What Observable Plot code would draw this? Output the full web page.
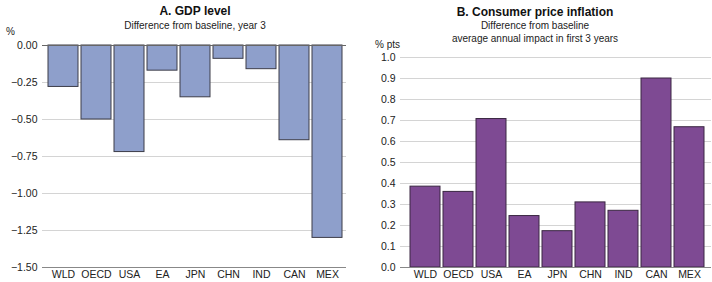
<!DOCTYPE html>
<html>
<head>
<meta charset="utf-8">
<script src="https://cdn.jsdelivr.net/npm/d3@7"></script>
<script src="https://cdn.jsdelivr.net/npm/@observablehq/plot@0.6"></script>
<style>
  html, body { margin: 0; padding: 0; background: #fff; }
  body { width: 712px; height: 282px; position: relative; overflow: hidden; font-family: "Liberation Sans", Arial, sans-serif; }
  .t { position: absolute; text-align: center; color: #111; white-space: nowrap; }
  .title { font-weight: bold; font-size: 12px; }
  .sub { font-size: 10px; color: #222; }
  .unit { position: absolute; font-size: 10px; color: #222; }
  .chart { position: absolute; top: 0; }
</style>
</head>
<body>
<div class="t title" style="left:95px;width:200px;top:4px;">A. GDP level</div>
<div class="t sub" style="left:95px;width:200px;top:20px;">Difference from baseline, year 3</div>
<div class="unit" style="left:6px;top:26px;">%</div>

<div class="t title" style="left:405px;width:260px;top:5px;">B. Consumer price inflation</div>
<div class="t sub" style="left:405px;width:260px;top:20px;">Difference from baseline</div>
<div class="t sub" style="left:405px;width:260px;top:33px;">average annual impact in first 3 years</div>
<div class="unit" style="left:375px;top:39px;">% pts</div>

<div id="left" class="chart" style="left:0px;"></div>
<div id="right" class="chart" style="left:356px;"></div>
<script>
const categories = ["WLD", "OECD", "USA", "EA", "JPN", "CHN", "IND", "CAN", "MEX"];
const gdpValues = [-0.28, -0.50, -0.72, -0.17, -0.35, -0.09, -0.16, -0.64, -1.30];
const cpiValues = [0.385, 0.36, 0.707, 0.245, 0.173, 0.31, 0.27, 0.90, 0.668];
const gdpTicks = [0, -0.25, -0.5, -0.75, -1, -1.25, -1.5];
const cpiTicks = [0, 0.1, 0.2, 0.3, 0.4, 0.5, 0.6, 0.7, 0.8, 0.9, 1.0];

const gdpData = categories.map((c, i) => ({cat: c, v: gdpValues[i]}));
const cpiData = categories.map((c, i) => ({cat: c, v: cpiValues[i]}));

const common = {
  style: {fontFamily: "Liberation Sans, Arial, sans-serif", fontSize: "10.5px", color: "#222", background: "transparent"},
};

const gdpGrid = gdpTicks.slice(1, 6).map(t => ({y: t}));
const cpiGrid = cpiTicks.slice(1).map(t => ({y: t}));

const left = Plot.plot({
  ...common,
  width: 356, height: 282,
  marginLeft: 45, marginRight: 10, marginTop: 45, marginBottom: 15,
  x: {domain: categories, padding: 0.08, label: null, tickSize: 0, tickPadding: 3},
  y: {domain: [-1.5, 0], ticks: gdpTicks, tickFormat: d3.format(".2f"), label: null, tickSize: 0, tickPadding: 8},
  marks: [
    Plot.ruleY(gdpGrid, {y: "y", stroke: "#d4d4d4", strokeWidth: 1, insetLeft: -3}),
    Plot.ruleY([-1.5], {stroke: "#888", strokeWidth: 1, insetLeft: -3}),
    Plot.barY(gdpData, {x: "cat", y: "v", fill: "#8e9fcb", stroke: "#3c3c48", strokeWidth: 1}),
    Plot.ruleY([0], {stroke: "#666", strokeWidth: 1, insetLeft: -3})
  ]
});
document.getElementById("left").appendChild(left);

const right = Plot.plot({
  ...common,
  width: 356, height: 282,
  marginLeft: 47, marginRight: 1, marginTop: 57, marginBottom: 15,
  x: {domain: categories, padding: 0.08, label: null, tickSize: 0, tickPadding: 3},
  y: {domain: [0, 1], ticks: cpiTicks, tickFormat: d3.format(".1f"), label: null, tickSize: 0, tickPadding: 8},
  marks: [
    Plot.ruleY(cpiGrid, {y: "y", stroke: "#d4d4d4", strokeWidth: 1, insetLeft: -3}),
    Plot.barY(cpiData, {x: "cat", y: "v", fill: "#7e4a93", stroke: "#3a2742", strokeWidth: 1}),
    Plot.ruleY([0], {stroke: "#888", strokeWidth: 1, insetLeft: -3})
  ]
});
document.getElementById("right").appendChild(right);
</script>
</body>
</html>
